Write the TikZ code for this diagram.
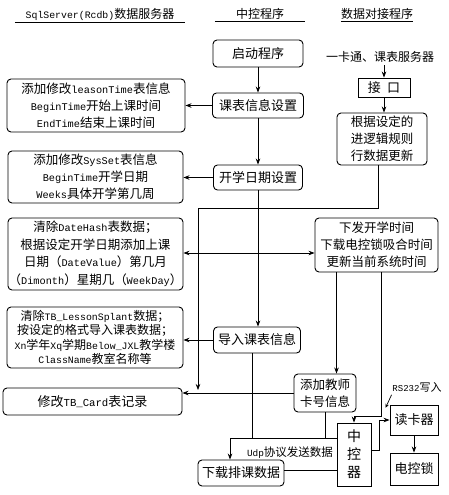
\documentclass[tikz,border=0pt]{standalone}
\usepackage{fontspec}
\setmainfont{Liberation Mono}[Scale=0.82]
\newfontfamily\cjk{Noto Sans CJK SC}
\usetikzlibrary{arrows.meta}

\XeTeXinterchartokenstate=1
\newXeTeXintercharclass\cjkchars
\newcount\cjkcode
\cjkcode="3000
\loop\XeTeXcharclass\cjkcode=\cjkchars \advance\cjkcode by 1 \ifnum\cjkcode<"3040 \repeat
\cjkcode="4E00
\loop\XeTeXcharclass\cjkcode=\cjkchars \advance\cjkcode by 1 \ifnum\cjkcode<"A000 \repeat
\cjkcode="FF00
\loop\XeTeXcharclass\cjkcode=\cjkchars \advance\cjkcode by 1 \ifnum\cjkcode<"FFF0 \repeat
\XeTeXinterchartoks 0 \cjkchars = {\begingroup\cjk}
\XeTeXinterchartoks 4095 \cjkchars = {\begingroup\cjk}
\XeTeXinterchartoks \cjkchars 0 = {\endgroup}
\XeTeXinterchartoks \cjkchars 4095 = {\endgroup}

\begin{document}
\begin{tikzpicture}[x=1pt,y=-1pt,
    b/.style={draw, rounded corners=4pt, line width=0.9pt, align=center,
              inner sep=0pt, font=\fontsize{13}{17}\selectfont},
    s/.style={draw, line width=0.9pt, align=center, inner sep=0pt,
              font=\fontsize{13}{17}\selectfont},
    h/.style={inner xsep=0pt, inner ysep=2pt, font=\fontsize{12}{14}\selectfont},
    a/.style={-{Stealth[length=6pt,width=4.5pt]}, line width=0.7pt},
    l/.style={line width=0.7pt}]
    \useasboundingbox (0,0) rectangle (449,495);
    \node[h, minimum width=170] (hl) at (100,14) {SqlServer(Rcdb)数据服务器};
    \node[h, minimum width=90]  (hm) at (260,14) {中控程序};
    \node[h, minimum width=67]  (hr) at (377,14) {数据对接程序};
    \foreach \n in {hl,hm,hr}
      \draw[l] (\n.south west) -- (\n.south east);

    \node[b, minimum width=90, minimum height=27] (start) at (258,53.5) {启动程序};
    \node[b, minimum width=91, minimum height=25] (kb)    at (258,105.5) {课表信息设置};
    \node[b, minimum width=89, minimum height=25] (kx)    at (258,177.5) {开学日期设置};
    \node[b, minimum width=87, minimum height=26] (dr)    at (257,340) {导入课表信息};
    \node[b, minimum width=62, minimum height=38, font=\fontsize{12.5}{17}\selectfont] (jia) at (325,393) {添加教师\\卡号信息};
    \node[b, minimum width=86, minimum height=26] (xz)    at (241,473) {下载排课数据};
    \node[s, minimum width=34, minimum height=63, font=\fontsize{14}{18}\selectfont] (zk) at (354,454.5) {中\\控\\器};

    \node[font=\fontsize{12}{14}\selectfont] (src) at (380,57) {一卡通、课表服务器};
    \node[s, minimum width=52, minimum height=19] (jk) at (384,87.5) {接\hspace{0.6em}口};
    \node[b, minimum width=90, minimum height=52, font=\fontsize{12.5}{17}\selectfont] (gj) at (382,139) {根据设定的\\进逻辑规则\\行数据更新};
    \node[b, minimum width=123, minimum height=54, font=\fontsize{12.5}{17}\selectfont] (xf) at (376.5,245) {下发开学时间\\下载电控锁吸合时间\\更新当前系统时间};
    \node[s, minimum width=48, minimum height=30] (dk) at (414,420) {读卡器};
    \node[s, minimum width=48, minimum height=32] (ds) at (414,469) {电控锁};
    \node[font=\fontsize{11}{13}\selectfont] (rs) at (417,387) {RS232写入};
    \node[font=\fontsize{11.5}{13}\selectfont] (udp) at (290,453) {Udp协议发送数据};

    \node[b, minimum width=178, minimum height=53, font=\fontsize{12.5}{17}\selectfont] (ls) at (96,105.5) {添加修改leasonTime表信息\\BeginTime开始上课时间\\EndTime结束上课时间};
    \node[b, minimum width=175, minimum height=52, font=\fontsize{12.5}{17}\selectfont] (ss) at (95.5,177) {添加修改SysSet表信息\\BeginTime开学日期\\Weeks具体开学第几周};
    \node[b, minimum width=175, minimum height=72, font=\fontsize{12.5}{17.5}\selectfont] (dh) at (95.5,254) {清除DateHash表数据；\\根据设定开学日期添加上课\\日期（DateValue）第几月\\（Dimonth）星期几（WeekDay）};
    \node[b, minimum width=176, minimum height=61, font=\fontsize{12}{14.5}\selectfont] (tb) at (95,337.5) {清除TB\_LessonSplant数据；\\按设定的格式导入课表数据；\\Xn学年Xq学期Below\_JXL教学楼\\ClassName教室名称等};
    \node[b, minimum width=179, minimum height=27] (tc) at (92.5,401.5) {修改TB\_Card表记录};

    \coordinate (c1) at (198,208);
    \coordinate (c2) at (198,253);
    \coordinate (c3) at (198,390);
    \coordinate (c4) at (230,438);

    \draw[a] (start) -- (kb);
    \draw[a] (kb) -- (ls);
    \draw[a] (kb) -- (kx);
    \draw[a] (kx.west) -- (kx.west -| ss.east);
    \draw[a] (kx) -- (kx |- dr.north);
    \draw[a] (dr.west) -- (dr.west -| tb.east);
    \draw[a] (jk.north |- src.south) -- (jk.north);
    \draw[a] (jk) -- (jk |- gj.north);
    \draw[a] ([xshift=-4]gj.south) |- (c1) -- (c3);
    \draw[a] (c2) -- (c2 -| xf.west);
    \draw[a] (c2) -- (c2 -| dh.east);
    \draw[a] ([xshift=-40]xf.south) -- ([xshift=-40]xf.south |- jia.north);
    \draw[a] ([xshift=5]xf.south) |- ([yshift=6]zk.north) -- (zk.north);
    \draw[a] (jia.west) -- (jia.west -| tc.east);
    \draw[l] ([xshift=-5]dr.south) |- (c4);
    \draw[l] (c4) -- (c4 -| zk.west);
    \draw[l] (jia.south) -- (jia.south |- c4);
    \draw[a] (c4) -- (c4 |- xz.north);
    \draw[l] ([yshift=3]xz.east) -- ([yshift=3]xz.east -| zk.west);
    \draw[a] ([yshift=4]zk.east) -- ++(8,0) |- (dk.west);
    \draw[a] (dk) -- (ds);
    \draw[l, -{Stealth[length=4pt,width=3.5pt]}] ([xshift=2]rs.south west) -- ++(-6,13);
  \end{tikzpicture}
\end{document}
